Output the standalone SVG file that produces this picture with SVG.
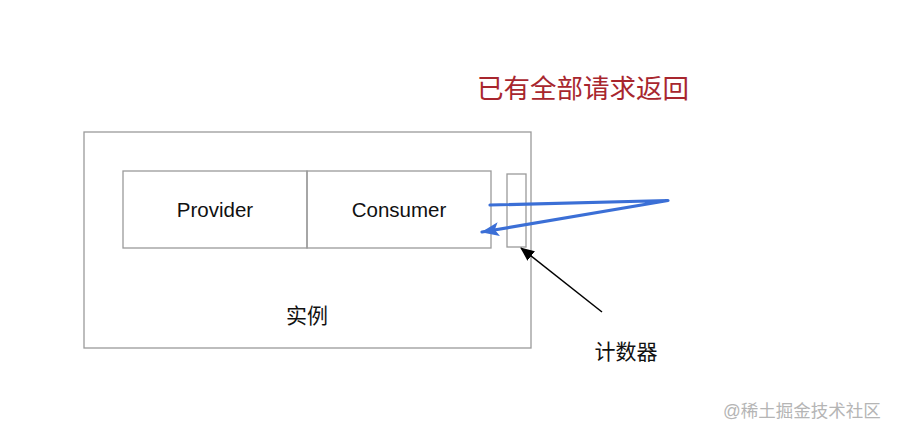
<svg xmlns="http://www.w3.org/2000/svg" width="898" height="438" viewBox="0 0 898 438">
<style>
.box{fill:none;stroke:#9a9a9a;stroke-width:1.3}
.t{font-family:"Liberation Sans","Noto Sans CJK SC",sans-serif;fill:#111;text-anchor:middle}
.blue{fill:none;stroke:#3b6fd6;stroke-width:3.2;stroke-linecap:round;stroke-linejoin:round}
</style>
<defs>
<marker id="ak" markerWidth="14" markerHeight="12" refX="13" refY="6" orient="auto" markerUnits="userSpaceOnUse">
<path d="M0,0 L14,6 L0,12 z" fill="#000"/>
</marker>
<marker id="ablue" markerWidth="18" markerHeight="14" refX="17" refY="7" orient="auto" markerUnits="userSpaceOnUse">
<path d="M0,0 L18,7 L0,14 L4,7 z" fill="#3b6fd6"/>
</marker>
</defs>
<rect width="898" height="438" fill="#fff"/>
<g id="instance">
<rect class="box" x="84" y="132" width="447" height="216"/>
<text class="t" x="307" y="323" font-size="21">实例</text>
</g>
<g id="provider">
<rect class="box" x="123" y="171" width="184" height="77"/>
<text class="t" x="215" y="217" font-size="20.5">Provider</text>
</g>
<g id="consumer">
<rect class="box" x="307" y="171" width="184" height="77"/>
<text class="t" x="399" y="217" font-size="20.5">Consumer</text>
</g>
<g id="counter">
<rect class="box" x="507" y="174" width="19" height="73" fill="#fff"/>
</g>
<g id="connectors">
<path class="blue" d="M490,205 L668,200.5 L482,232" marker-end="url(#ablue)"/>
<line x1="602" y1="312" x2="521" y2="248" stroke="#000" stroke-width="1.5" marker-end="url(#ak)"/>
</g>
<g id="labels">
<text class="t" x="626" y="359" font-size="21">计数器</text>
<text class="t" x="583" y="98" font-size="26.5" style="fill:#a8262e">已有全部请求返回</text>
<text class="t" x="802" y="417" font-size="17.5" style="fill:#b5b5b5">@稀土掘金技术社区</text>
</g>
</svg>
